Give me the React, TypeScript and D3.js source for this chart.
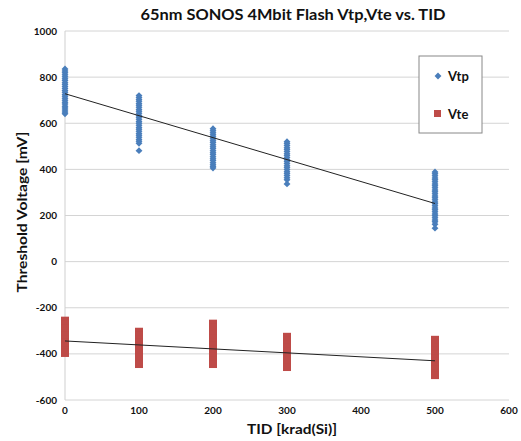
import { useMemo } from 'react';
import * as d3 from 'd3';

// TID doses [krad(Si)]
const doses = [0, 100, 200, 300, 500];

// Vtp readings per dose [mV]
const vtp0 = [835, 827, 819, 810, 802, 793, 785, 776, 768, 759, 751, 742, 734, 725, 717, 708, 700, 691, 683, 674, 666, 657, 649, 641];
const vtp100 = [720, 712, 703, 695, 686, 678, 669, 660, 652, 643, 634, 626, 617, 608, 600, 591, 582, 574, 565, 556, 548, 539, 530, 522, 513, 481];
const vtp200 = [576, 568, 559, 550, 542, 533, 524, 516, 507, 498, 490, 481, 472, 464, 455, 446, 438, 429, 420, 412, 406];
const vtp300 = [520, 512, 503, 494, 486, 477, 468, 460, 451, 442, 434, 425, 416, 408, 399, 390, 382, 373, 364, 355, 337];
const vtp500 = [389, 381, 372, 363, 355, 346, 337, 329, 320, 311, 303, 294, 285, 277, 268, 259, 251, 242, 233, 225, 216, 207, 199, 190, 181, 173, 162, 145];

// Vte readings per dose [mV]
const vte0 = [-256, -272, -288, -304, -320, -336, -352, -368, -384, -396];
const vte100 = [-304, -320, -336, -352, -368, -384, -400, -416, -432, -444];
const vte200 = [-269, -285, -301, -317, -333, -349, -365, -381, -397, -413, -429, -444];
const vte300 = [-326, -342, -358, -374, -390, -406, -422, -438, -457];
const vte500 = [-339, -355, -371, -387, -403, -419, -435, -451, -467, -483, -492];

// linear trend values at first and last dose
const trendVtp = [728, 252];
const trendVte = [-344, -430];

const xTicks = [0, 100, 200, 300, 400, 500, 600];
const yTicks = [-600, -400, -200, 0, 200, 400, 600, 800, 1000];

const vtpCols = [vtp0, vtp100, vtp200, vtp300, vtp500];
const vteCols = [vte0, vte100, vte200, vte300, vte500];

const BLUE = '#4a7ebb';
const RED = '#be4b48';
const FONT = 'Lato, "Open Sans", sans-serif';

export default function App() {
  const W = 521;
  const H = 441;
  const x = useMemo(() => d3.scaleLinear().domain([0, 600]).range([65, 509]), []);
  const y = useMemo(() => d3.scaleLinear().domain([-600, 1000]).range([400, 31]), []);
  const diamond = d3.symbol().type(d3.symbolDiamond2).size(30)();

  const vtpPts = vtpCols.flatMap((col, i) => col.map((v) => ({ d: doses[i], v })));
  const vtePts = vteCols.flatMap((col, i) => col.map((v) => ({ d: doses[i], v })));

  const line = d3
    .line<[number, number]>()
    .x((p) => x(p[0]))
    .y((p) => y(p[1]));
  const ends = [doses[0], doses[doses.length - 1]];

  return (
    <svg
      width={W}
      height={H}
      style={{ position: 'absolute', left: 0, top: 0, background: '#fff' }}
      fontFamily={FONT}
    >
      <text
        x={293}
        y={20}
        textAnchor="middle"
        fontSize={16}
        fontWeight="bold"
        fill="#111"
        textLength={305}
        lengthAdjust="spacingAndGlyphs"
      >
        65nm SONOS 4Mbit Flash Vtp,Vte vs. TID
      </text>

      {/* gridlines */}
      {yTicks.map((t) => (
        <g key={t}>
          <line x1={x(0)} x2={x(600)} y1={y(t)} y2={y(t)} stroke="#d4d4d4" strokeWidth={1} />
          <text x={57} y={y(t)} dy="0.35em" textAnchor="end" fontSize={10} fontWeight="bold" fill="#111">
            {t}
          </text>
        </g>
      ))}
      <line x1={x(0)} x2={x(0)} y1={y(1000)} y2={y(-600)} stroke="#cfcfcf" />
      {xTicks.map((t) => (
        <text key={t} x={x(t)} y={414} textAnchor="middle" fontSize={10} fontWeight="bold" fill="#111">
          {t}
        </text>
      ))}

      <text
        x={292}
        y={434}
        textAnchor="middle"
        fontSize={14}
        fontWeight="bold"
        fill="#111"
        textLength={90}
        lengthAdjust="spacingAndGlyphs"
      >
        TID [krad(Si)]
      </text>
      <text
        transform={`translate(27, 212) rotate(-90)`}
        textAnchor="middle"
        fontSize={14}
        fontWeight="bold"
        fill="#111"
        textLength={161}
        lengthAdjust="spacingAndGlyphs"
      >
        Threshold Voltage  [mV]
      </text>

      {/* markers */}
      {vtpPts.map((p, i) => (
        <path key={'p' + i} d={diamond!} transform={`translate(${x(p.d)},${y(p.v)})`} fill={BLUE} />
      ))}
      {vtePts.map((p, i) => (
        <rect key={'e' + i} x={x(p.d) - 4} y={y(p.v) - 4} width={8} height={8} fill={RED} />
      ))}

      {/* trend lines */}
      <path d={line(ends.map((d, i) => [d, trendVtp[i]]))!} stroke="#222" strokeWidth={1} fill="none" />
      <path d={line(ends.map((d, i) => [d, trendVte[i]]))!} stroke="#222" strokeWidth={1} fill="none" />

      {/* legend */}
      <rect x={419} y={56} width={63} height={77} fill="#fff" stroke="#888" />
      <path d={diamond!} transform="translate(438,76)" fill={BLUE} />
      <text x={448} y={76} dy="0.35em" fontSize={13} fontWeight="bold" fill="#111">
        Vtp
      </text>
      <rect x={434} y={110} width={7} height={7} fill={RED} />
      <text x={448} y={114} dy="0.35em" fontSize={13} fontWeight="bold" fill="#111">
        Vte
      </text>
    </svg>
  );
}
